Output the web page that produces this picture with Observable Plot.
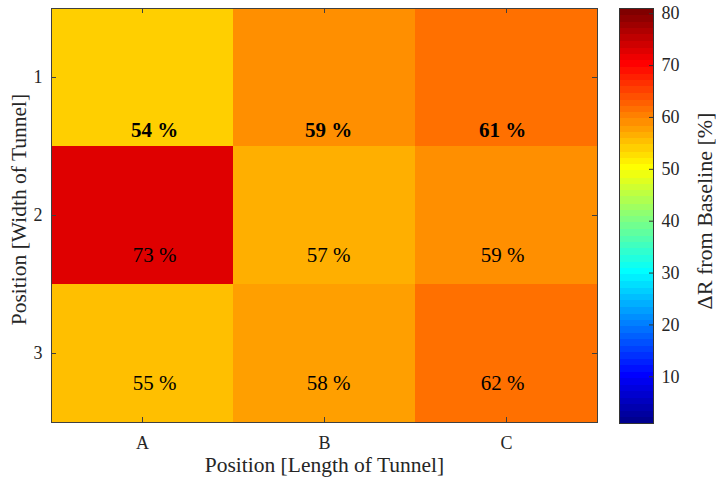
<!DOCTYPE html>
<html>
<head>
<meta charset="utf-8">
<script src="https://cdn.jsdelivr.net/npm/d3@7"></script>
<script src="https://cdn.jsdelivr.net/npm/@observablehq/plot@0.6"></script>
<style>
  body { margin: 0; background: #fff; }
  #chart { position: relative; width: 716px; height: 480px; }
  #chart svg { position: absolute; top: 0; }
</style>
</head>
<body>
<div id="chart"></div>
<script>
// Positions along the tunnel length (columns) and across its width (rows)
const lengthPositions = ["A", "B", "C"];
const widthPositions = [1, 2, 3];
// Change in resistance from baseline, in %, one row per width position
const deltaRRow1 = [54, 59, 61];
const deltaRRow2 = [73, 57, 59];
const deltaRRow3 = [55, 58, 62];
// Colour bar limits and ticks
const colorDomain = [1, 81];
const colorTicks = [10, 20, 30, 40, 50, 60, 70, 80];

const rows = [deltaRRow1, deltaRRow2, deltaRRow3];
const cells = widthPositions.flatMap((w, i) =>
  lengthPositions.map((l, j) => ({ w, l, v: rows[i][j] }))
);

// MATLAB-style "jet" colormap, 64 discrete levels
function jet(t) {
  const k = Math.min(64, Math.floor(t * 64) + 1) / 64;
  const c = (v) => Math.round(255 * Math.max(0, Math.min(1, 1.5 - Math.abs(4 * k - v))));
  return `rgb(${c(3)},${c(2)},${c(1)})`;
}

const font = "'Liberation Serif', 'Times New Roman', serif";
const axisInk = "#404040";
const textInk = "#262626";
const colorScale = { type: "linear", domain: colorDomain, interpolate: jet, clamp: true };

const W = 716, H = 480;
const mL = 51, mR = 119, mT = 8, mB = 58;
const fw = W - mL - mR, fh = H - mT - mB;
const tick = 5;

// value label offsets from each cell centre
const labelDx = { A: 12, B: 4, C: -4 };
const labelDy = { 1: 53, 2: 40, 3: 30 };

const valueLabels = widthPositions.flatMap((w) =>
  lengthPositions.map((l) =>
    Plot.text(cells.filter((d) => d.w === w && d.l === l), {
      x: "l",
      y: "w",
      text: (d) => `${d.v} %`,
      dx: labelDx[l],
      dy: labelDy[w],
      fontSize: 21,
      fontWeight: w === 1 ? "bold" : "normal",
      fill: "black"
    })
  )
);

const main = Plot.plot({
  width: W,
  height: H,
  marginLeft: mL,
  marginRight: mR,
  marginTop: mT,
  marginBottom: mB,
  style: { fontFamily: font, fontSize: "18px", color: textInk, background: "transparent" },
  x: { domain: lengthPositions, padding: 0, label: null },
  y: { domain: widthPositions, padding: 0, label: null },
  color: colorScale,
  marks: [
    Plot.cell(cells, { x: "l", y: "w", fill: "v" }),
    ...valueLabels,
    Plot.frame({ stroke: axisInk }),
    Plot.tickX(lengthPositions, { x: (d) => d, insetTop: fh - tick, stroke: axisInk }),
    Plot.tickX(lengthPositions, { x: (d) => d, insetBottom: fh - tick, stroke: axisInk }),
    Plot.tickY(widthPositions, { y: (d) => d, insetRight: fw - tick, stroke: axisInk }),
    Plot.tickY(widthPositions, { y: (d) => d, insetLeft: fw - tick, stroke: axisInk }),
    Plot.axisX({ tickSize: 0, tickPadding: 14, label: null, fontSize: 18 }),
    Plot.axisY({ tickSize: 0, tickPadding: 9, label: null, fontSize: 18 }),
    Plot.text(["Position [Length of Tunnel]"], {
      text: (d) => d,
      frameAnchor: "bottom",
      lineAnchor: "middle",
      dy: 43,
      fontSize: 21.5,
      fill: textInk
    }),
    Plot.text(["Position [Width of Tunnel]"], {
      text: (d) => d,
      frameAnchor: "left",
      textAnchor: "middle",
      lineAnchor: "middle",
      rotate: -90,
      dx: -32,
      dy: -6,
      fontSize: 21.5,
      fill: textInk
    })
  ]
});

// Vertical colour bar
const cbW = 97, barW = 34;
const colorbar = Plot.plot({
  width: cbW,
  height: H,
  marginLeft: 0,
  marginRight: cbW - barW,
  marginTop: 8,
  marginBottom: 57,
  style: { fontFamily: font, fontSize: "18px", color: textInk, background: "transparent" },
  x: { domain: [0, 1], axis: null },
  y: { domain: colorDomain, axis: null },
  color: colorScale,
  marks: [
    Plot.raster({
      fill: (x, y) => y,
      x1: 0, x2: 1,
      y1: colorDomain[0], y2: colorDomain[1],
      width: 1, height: 400,
      imageRendering: "pixelated"
    }),
    Plot.frame({ stroke: "#333" }),
    Plot.tickY(colorTicks, { y: (d) => d, insetLeft: barW - 4, stroke: "#333" }),
    Plot.axisY(colorTicks, { anchor: "right", tickSize: 0, tickPadding: 8, label: null, fontSize: 18 }),
    Plot.text(["\u0394R from Baseline [%]"], {
      text: (d) => d,
      frameAnchor: "right",
      textAnchor: "middle",
      lineAnchor: "middle",
      rotate: -90,
      dx: 51,
      dy: -5,
      fontSize: 22,
      fill: textInk
    })
  ]
});
colorbar.style.left = "619px";

const root = document.getElementById("chart");
root.append(main, colorbar);
</script>
</body>
</html>
